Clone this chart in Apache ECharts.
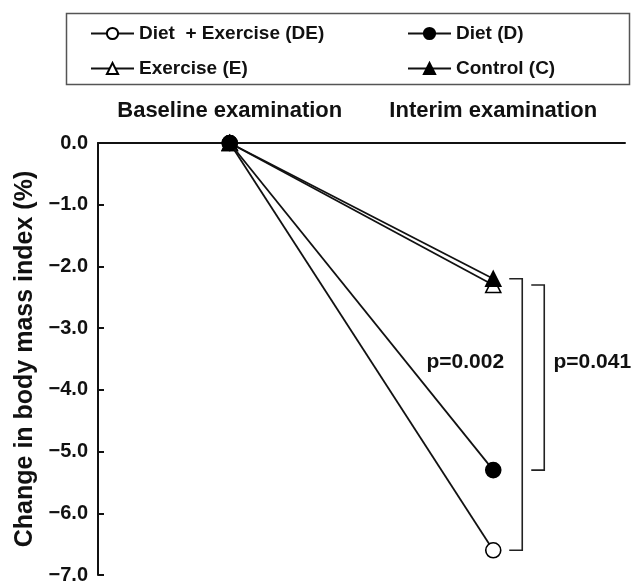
<!DOCTYPE html>
<html>
<head>
<meta charset="utf-8">
<script src="https://cdn.jsdelivr.net/npm/echarts@6/dist/echarts.min.js"></script>
<style>html,body{margin:0;padding:0;background:#fff;}#c{width:631px;height:585px;}</style>
</head>
<body>
<div id="c"></div>
<script>
const categories = ['Baseline examination', 'Interim examination'];
const seriesNames = ['Diet  + Exercise (DE)', 'Diet (D)', 'Exercise (E)', 'Control (C)'];
const dietExercise = [0.0, -6.6];
const diet = [0.0, -5.3];
const exercise = [0.0, -2.3];
const control = [0.0, -2.2];
const yTicks = [0, -1, -2, -3, -4, -5, -6, -7];
// comparisons at interim examination: [category index, value A, value B]
const comparisons = [[1, -2.2, -6.6], [1, -2.3, -5.3]];
const pLabels = ['p=0.002', 'p=0.041'];

const FONT = '"Liberation Sans", Arial, sans-serif';
const chart = echarts.init(document.getElementById('c'), null, {renderer: 'canvas'});

function lineSeries(name, data, symbol, filled, z) {
  return {
    name: name, type: 'line', data: data, symbol: symbol,
    symbolSize: 15,
    z: z,
    lineStyle: {color: '#111', width: 1.8},
    itemStyle: {color: filled ? '#000' : '#fff', borderColor: '#000', borderWidth: 1.6},
    emphasis: {disabled: true},
    animation: false
  };
}

const legendText = {fontFamily: FONT, fontSize: 19, fontWeight: 'bold', color: '#111'};

chart.setOption({
  animation: false,
  backgroundColor: '#fff',
  textStyle: {fontFamily: FONT},
  grid: {left: 98, right: 6, top: 143, bottom: 9, containLabel: false},
  legend: [
    {data: [seriesNames[0], seriesNames[2]], orient: 'vertical', left: 90, top: 24, padding: 0,
     itemWidth: 43, itemHeight: 14, itemGap: 16, textStyle: legendText},
    {data: [seriesNames[1], seriesNames[3]], orient: 'vertical', left: 407, top: 24, padding: 0,
     itemWidth: 43, itemHeight: 14, itemGap: 16, textStyle: legendText}
  ],
  graphic: [{type: 'rect', left: 64, top: 11, shape: {width: 563, height: 71},
    style: {fill: 'none', stroke: '#555', lineWidth: 1.5}, silent: true}],
  xAxis: {
    type: 'category', data: categories, position: 'top', boundaryGap: true,
    axisLine: {show: true, onZero: true, lineStyle: {color: '#111', width: 2}},
    axisTick: {show: false},
    axisLabel: {interval: 0, hideOverlap: false, fontSize: 22, fontWeight: 'bold', color: '#111', margin: 21, fontFamily: FONT},
    splitLine: {show: false}
  },
  yAxis: {
    type: 'value', min: -7, max: 0, interval: 1,
    name: 'Change in body mass index (%)', nameLocation: 'middle', nameGap: 60, nameRotate: 90,
    nameTextStyle: {fontSize: 25, fontWeight: 'bold', color: '#111', fontFamily: FONT},
    axisLine: {show: true, lineStyle: {color: '#111', width: 2}},
    axisTick: {show: true, inside: true, length: 6, lineStyle: {color: '#111', width: 2}},
    axisLabel: {fontSize: 20, fontWeight: 'bold', color: '#111', margin: 10, fontFamily: FONT,
      formatter: function (v) { return v.toFixed(1).replace('-', '\u2212'); }},
    splitLine: {show: false}
  },
  series: [
    lineSeries(seriesNames[0], dietExercise, 'circle', false, 2),
    lineSeries(seriesNames[2], exercise, 'triangle', false, 3),
    lineSeries(seriesNames[3], control, 'triangle', true, 4),
    lineSeries(seriesNames[1], diet, 'circle', true, 5),
    {
      type: 'custom', data: comparisons, clip: false, silent: true, z: 6,
      renderItem: function (params, api) {
        const a = api.coord([api.value(0), api.value(1)]);
        const b = api.coord([api.value(0), api.value(2)]);
        const i = params.dataIndex;
        const x0 = a[0] + (i === 0 ? 16 : 38);
        const x1 = x0 + 13;
        const labelX = i === 0 ? a[0] - 28 : a[0] + 99;
        const labelY = a[1] + (i === 0 ? 83 : 77);
        return {
          type: 'group',
          children: [
            {type: 'polyline', shape: {points: [[x0, a[1]], [x1, a[1]], [x1, b[1]], [x0, b[1]]]},
             style: {stroke: '#222', lineWidth: 1.6, fill: 'none'}},
            {type: 'text', style: {text: pLabels[i], x: labelX, y: labelY,
             align: 'center', verticalAlign: 'middle', fill: '#111',
             font: 'bold 21px ' + FONT}}
          ]
        };
      }
    }
  ]
});
</script>
</body>
</html>
